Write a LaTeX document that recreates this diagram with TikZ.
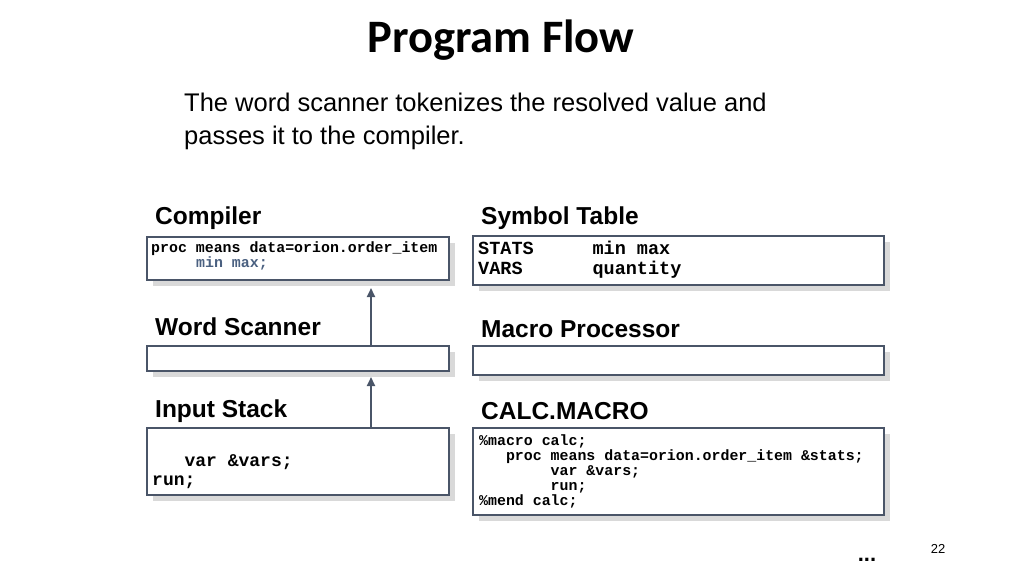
\documentclass[tikz,border=0pt]{standalone}
\usepackage{fontspec}
\usetikzlibrary{arrows.meta}
\setmainfont{Liberation Sans}
\setmonofont{Liberation Mono}
\newfontfamily\titlefont{Carlito}
\definecolor{bord}{HTML}{4A5568}
\definecolor{shad}{HTML}{D9D9D9}
\definecolor{codeblue}{HTML}{4A6080}
\begin{document}
\begin{tikzpicture}[x=1pt,y=-1pt,
  box/.style={draw=bord,line width=2.5pt,fill=white},
  lbl/.style={anchor=west,inner sep=0,font=\fontsize{24.5}{28}\selectfont\bfseries},
  code/.style={anchor=north west,inner sep=0,align=left,font=\ttfamily\bfseries}]
\useasboundingbox (0,0) rectangle (1024,576);
\node[font=\titlefont\fontsize{46.5}{50}\selectfont\bfseries] (title) at (501,40) {Program Flow};
\node[anchor=north west,align=left,inner sep=0,font=\fontsize{25.5}{33}\selectfont] (intro) at (184,93) {The word scanner tokenizes the resolved value and\\passes it to the compiler.};
\foreach \a/\b/\c/\d in {147/237/449/280, 473/236/884/285, 147/346/449/371, 473/346/884/375, 147/428/449/495, 473/428/884/515}
  \fill[shad] (\a+6,\b+6) rectangle (\c+6,\d+6);
\draw[box] (147,237) rectangle (449,280);
\draw[box] (473,236) rectangle (884,285);
\draw[box] (147,346) rectangle (449,371);
\draw[box] (473,346) rectangle (884,375);
\draw[box] (147,428) rectangle (449,495);
\draw[box] (473,428) rectangle (884,515);
\node[lbl] (lc) at (155,218) {Compiler};
\node[lbl] (ls) at (481,218) {Symbol Table};
\node[lbl] (lw) at (155,327) {Word Scanner};
\node[lbl] (lm) at (481,329) {Macro Processor};
\node[lbl] (li) at (155,411) {Input Stack};
\node[lbl] (lcm) at (481,411) {CALC.MACRO};
\node[code,font=\ttfamily\bfseries\fontsize{14.9}{15}\selectfont] (c1) at (151,241) {proc means data=orion.order\_item};
\node[code,font=\ttfamily\bfseries\fontsize{14.9}{15}\selectfont,text=codeblue] (c1b) at (196,256) {min max;};
\node[code,font=\ttfamily\bfseries\fontsize{18.5}{20}\selectfont] (c2) at (478,241) {STATS\hspace{5.3\fontcharwd\font`M}min max\\VARS\hspace{6.3\fontcharwd\font`M}quantity};
\node[code,font=\ttfamily\bfseries\fontsize{18}{19}\selectfont] (c3) at (152,454) {\hspace*{3\fontcharwd\font`M}var \&vars;\\run;};
\node[code,font=\ttfamily\bfseries\fontsize{14.9}{15}\selectfont] (c4) at (479,434) {\%macro calc;\\\hspace*{3\fontcharwd\font`M}proc means data=orion.order\_item \&stats;\\\hspace*{8\fontcharwd\font`M}var \&vars;\\\hspace*{8\fontcharwd\font`M}run;\\\%mend calc;};
\coordinate (a1s) at (371,346); \coordinate (a1e) at (371,288);
\coordinate (a2s) at (371,428); \coordinate (a2e) at (371,377);
\draw[bord,line width=2pt,-{Triangle[length=9pt,width=8pt]}] (a1s) -- (a1e);
\draw[bord,line width=2pt,-{Triangle[length=9pt,width=8pt]}] (a2s) -- (a2e);
\node[font=\fontsize{13}{14}\selectfont] (pg) at (938,549) {22};
\node[font=\fontsize{22}{22}\selectfont\bfseries] (dots) at (867,560) {...};
\end{tikzpicture}
\end{document}
